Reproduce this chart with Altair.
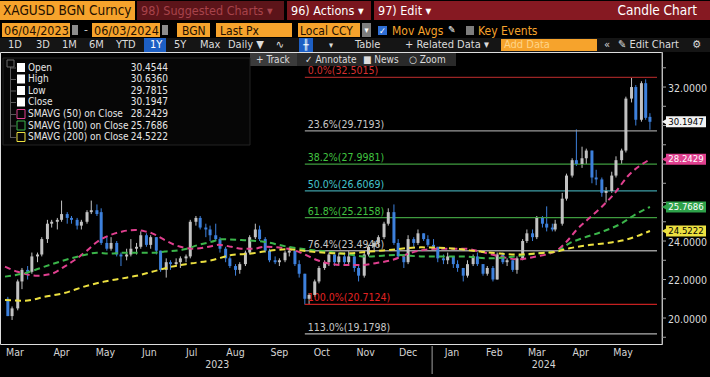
import altair as alt
import pandas as pd

# ---------------- data ----------------
dates = [
    "2023-03-07","2023-03-10","2023-03-14","2023-03-17","2023-03-21","2023-03-24","2023-03-28","2023-03-31",
    "2023-04-04","2023-04-07","2023-04-11","2023-04-14","2023-04-18","2023-04-21","2023-04-25","2023-04-28",
    "2023-05-02","2023-05-05","2023-05-09","2023-05-12","2023-05-16","2023-05-19","2023-05-23","2023-05-26","2023-05-30",
    "2023-06-02","2023-06-06","2023-06-09","2023-06-13","2023-06-16","2023-06-20","2023-06-23","2023-06-27","2023-06-30",
    "2023-07-04","2023-07-07","2023-07-11","2023-07-14","2023-07-18","2023-07-21","2023-07-25","2023-07-28",
    "2023-08-01","2023-08-04","2023-08-08","2023-08-11","2023-08-15","2023-08-18","2023-08-22","2023-08-25","2023-08-29",
    "2023-09-01","2023-09-05","2023-09-08","2023-09-12","2023-09-15","2023-09-19","2023-09-22","2023-09-26","2023-09-29",
    "2023-10-03","2023-10-06","2023-10-10","2023-10-13","2023-10-17","2023-10-20","2023-10-24","2023-10-27","2023-10-31",
    "2023-11-03","2023-11-07","2023-11-10","2023-11-14","2023-11-17","2023-11-21","2023-11-24","2023-11-28",
    "2023-12-01","2023-12-05","2023-12-08","2023-12-12","2023-12-15","2023-12-19","2023-12-22","2023-12-26","2023-12-29",
    "2024-01-02","2024-01-05","2024-01-09","2024-01-12","2024-01-16","2024-01-19","2024-01-23","2024-01-26","2024-01-30",
    "2024-02-02","2024-02-06","2024-02-09","2024-02-13","2024-02-16","2024-02-20","2024-02-23","2024-02-27",
    "2024-03-01","2024-03-05","2024-03-08","2024-03-12","2024-03-15","2024-03-19","2024-03-22","2024-03-26","2024-03-28",
    "2024-04-02","2024-04-05","2024-04-09","2024-04-12","2024-04-16","2024-04-19","2024-04-23","2024-04-26","2024-04-30",
    "2024-05-03","2024-05-07","2024-05-10","2024-05-14","2024-05-17","2024-05-21","2024-05-24","2024-05-28","2024-05-31",
    "2024-06-03",
]
opens = [
    21.0, 20.1, 20.5, 21.9, 22.5, 22.4, 23.2, 23.3,
    24.1, 24.9, 25.0, 25.1, 25.4, 25.2, 25.1, 24.8,
    25.0, 25.5, 25.6, 25.5, 23.9, 23.6, 23.9, 23.3, 23.2,
    23.3, 23.6, 23.7, 24.3, 23.8, 24.2, 23.5, 22.5, 22.9,
    22.8, 22.9, 23.1, 23.2, 25.0, 25.2, 24.7, 24.6,
    24.3, 24.1, 23.6, 23.1, 22.7, 22.5, 22.8, 23.4, 24.2,
    24.6, 24.1, 23.5, 23.0, 22.9, 23.0, 23.4, 23.5, 22.8,
    22.3, 21.0, 21.2, 21.9, 22.6, 22.9, 23.3, 22.9, 23.2,
    22.9, 23.2, 22.6, 22.2, 23.3, 23.7, 23.9, 24.2,
    24.9, 25.5, 23.9, 23.2, 22.9, 24.1, 23.9, 24.4, 24.1,
    23.8, 23.7, 23.1, 23.0, 23.2, 22.8, 22.6, 22.2, 22.8,
    23.2, 22.8, 22.3, 22.6, 22.0, 23.3, 22.9, 23.0,
    22.5, 23.1, 24.0, 24.4, 24.2, 25.2, 24.9, 24.7, 24.6,
    24.9, 26.2, 27.4, 28.2, 28.0, 28.3, 28.7, 27.3, 27.2,
    26.5, 26.6, 27.4, 28.2, 28.7, 31.4, 32.0, 30.3, 32.2,
    30.45,
]
highs = [
    21.1, 20.6, 22.0, 22.6, 22.7, 23.4, 23.4, 24.2,
    25.1, 25.1, 25.2, 26.1, 25.5, 25.3, 25.2, 25.1,
    25.6, 26.1, 25.9, 25.7, 24.2, 24.2, 24.0, 23.4, 23.6,
    24.1, 23.9, 24.5, 24.4, 24.3, 24.2, 23.5, 23.1, 23.0,
    23.1, 23.2, 23.3, 25.1, 25.3, 25.3, 24.9, 24.8,
    24.9, 24.2, 23.7, 23.2, 22.8, 22.9, 23.5, 24.3, 24.9,
    24.8, 24.2, 23.6, 23.2, 23.1, 23.5, 23.7, 23.5, 23.0,
    22.3, 21.3, 22.0, 22.7, 23.0, 23.4, 23.3, 23.4, 23.4,
    23.5, 23.2, 22.7, 23.4, 23.8, 24.0, 24.3, 25.0,
    25.7, 25.9, 24.1, 23.3, 24.3, 24.2, 24.6, 24.4, 24.3,
    24.1, 23.7, 23.3, 23.4, 23.2, 23.0, 22.6, 23.0, 23.3,
    23.4, 22.8, 22.7, 22.7, 23.4, 23.4, 23.1, 23.0,
    23.2, 24.1, 24.6, 24.6, 25.3, 25.3, 25.8, 24.9, 25.1,
    26.5, 27.5, 28.3, 29.8, 28.9, 28.8, 28.7, 27.7, 27.3,
    26.8, 27.6, 28.4, 28.8, 31.5, 32.5, 32.1, 32.3, 32.4,
    30.64,
]
lows = [
    20.1, 19.9, 20.4, 21.5, 22.0, 22.3, 22.9, 23.2,
    23.9, 24.7, 24.6, 25.0, 24.9, 24.9, 24.6, 24.6,
    24.9, 25.4, 25.3, 23.8, 23.5, 23.5, 23.2, 22.7, 23.0,
    23.2, 23.3, 23.6, 23.7, 23.6, 23.3, 22.4, 22.1, 22.5,
    22.7, 22.6, 22.9, 23.1, 24.8, 24.6, 24.2, 24.0,
    24.0, 23.4, 22.9, 22.6, 22.2, 22.3, 22.7, 23.3, 24.1,
    24.0, 23.4, 22.9, 22.8, 22.7, 22.9, 23.2, 22.7, 22.1,
    20.7, 20.7, 21.1, 21.8, 22.5, 22.7, 22.7, 22.8, 22.8,
    22.8, 22.4, 21.9, 22.1, 23.2, 23.5, 23.7, 24.1,
    24.8, 23.8, 23.1, 22.6, 22.8, 23.7, 23.8, 24.0, 23.7,
    23.6, 22.9, 22.8, 22.8, 22.6, 22.4, 21.9, 22.1, 22.7,
    22.7, 22.2, 22.2, 21.9, 22.0, 22.8, 22.7, 22.4,
    22.3, 23.0, 23.9, 24.0, 24.1, 24.7, 24.5, 24.5, 24.5,
    24.8, 26.1, 27.3, 27.9, 27.8, 28.0, 27.0, 26.9, 26.3,
    26.0, 26.5, 27.3, 28.0, 28.6, 31.2, 30.0, 30.2, 30.3,
    29.78,
]
closes = [
    20.1, 20.5, 21.9, 22.5, 22.4, 23.2, 23.3, 24.1,
    24.9, 25.0, 25.1, 25.4, 25.2, 25.1, 24.8, 25.0,
    25.5, 25.6, 25.4, 23.9, 23.6, 23.9, 23.3, 23.2, 23.3,
    23.6, 23.7, 24.3, 23.8, 24.2, 23.5, 22.5, 22.9, 22.8,
    22.9, 23.1, 23.2, 25.0, 25.2, 24.7, 24.6, 24.3,
    24.1, 23.6, 23.1, 22.7, 22.5, 22.8, 23.4, 24.2, 24.6,
    24.1, 23.5, 23.0, 22.9, 23.0, 23.4, 23.5, 22.8, 22.3,
    21.0, 21.2, 21.9, 22.6, 22.9, 23.3, 22.9, 23.2, 22.9,
    23.2, 22.6, 22.2, 23.3, 23.7, 23.9, 24.2, 24.9,
    25.5, 23.9, 23.2, 22.9, 24.1, 23.9, 24.4, 24.1, 23.8,
    23.7, 23.1, 23.0, 23.2, 22.8, 22.6, 22.2, 22.8, 23.2,
    22.8, 22.3, 22.6, 22.0, 23.3, 22.9, 23.0, 22.5,
    23.1, 24.0, 24.4, 24.2, 25.2, 24.9, 24.7, 24.6, 24.9,
    26.2, 27.4, 28.2, 28.0, 28.3, 28.7, 27.3, 27.2, 26.5,
    26.6, 27.4, 28.2, 28.7, 31.4, 32.0, 30.3, 32.2, 30.4,
    30.1947,
]

ma50_dates = ["2023-03-05","2023-03-14","2023-03-28","2023-04-07","2023-04-16","2023-04-23","2023-05-02","2023-05-09",
              "2023-05-18","2023-05-27","2023-06-05","2023-06-12","2023-06-17","2023-06-26","2023-07-03","2023-07-10",
              "2023-07-17","2023-07-27","2023-08-03","2023-08-12","2023-08-19","2023-08-28","2023-09-04","2023-09-21",
              "2023-09-30","2023-10-12","2023-10-19","2023-10-30","2023-11-11","2023-11-22","2023-12-03","2023-12-20",
              "2024-01-05","2024-01-24","2024-02-04","2024-02-18","2024-03-01","2024-03-15","2024-03-29","2024-04-05",
              "2024-04-12","2024-04-21","2024-04-30","2024-05-09","2024-05-18","2024-06-03"]
ma50_vals = [22.67, 22.4, 22.2, 22.3, 22.67, 23.0, 23.5, 23.95,
             24.3, 24.5, 24.57, 24.5, 24.4, 24.05, 23.8, 23.65,
             23.6, 23.7, 23.8, 23.7, 23.6, 23.6, 23.7, 23.6,
             23.4, 23.0, 22.85, 22.75, 22.75, 22.85, 23.0, 23.45,
             23.6, 23.6, 23.45, 23.2, 23.05, 23.2, 23.5, 23.96,
             24.57, 25.18, 25.78, 26.48, 27.34, 28.2429]

ma100_dates = ["2023-03-05","2023-03-19","2023-04-02","2023-04-16","2023-04-30","2023-05-09","2023-05-18","2023-05-27",
               "2023-06-17","2023-06-26","2023-07-10","2023-07-20","2023-07-29","2023-08-05","2023-08-19","2023-08-30",
               "2023-09-04","2023-09-21","2023-10-02","2023-10-19","2023-11-06","2023-11-16","2023-11-29","2023-12-08",
               "2023-12-24","2024-01-07","2024-01-24","2024-02-09","2024-02-28","2024-03-15","2024-03-29","2024-04-07",
               "2024-04-16","2024-04-30","2024-05-14","2024-05-23","2024-06-03"]
ma100_vals = [22.15, 22.33, 22.67, 23.0, 23.27, 23.39, 23.35, 23.39,
              23.39, 23.45, 23.57, 23.8, 23.96, 24.09, 24.05, 24.0,
              23.96, 23.7, 23.58, 23.45, 23.27, 23.19, 23.25, 23.27,
              23.2, 23.19, 23.19, 23.1, 23.19, 23.36, 23.45, 23.88,
              24.14, 24.48, 24.92, 25.35, 25.7686]

ma200_dates = ["2023-03-05","2023-03-19","2023-04-02","2023-04-16","2023-04-30","2023-05-14","2023-05-27","2023-06-05",
               "2023-06-17","2023-07-01","2023-07-15","2023-07-29","2023-08-12","2023-08-26","2023-09-04","2023-09-21",
               "2023-10-07","2023-10-30","2023-11-18","2023-12-01","2023-12-24","2024-01-17","2024-02-04","2024-02-18",
               "2024-03-01","2024-03-15","2024-03-29","2024-04-07","2024-04-21","2024-05-05","2024-05-16","2024-06-03"]
ma200_vals = [20.93, 20.9, 21.1, 21.3, 21.63, 21.89, 22.06, 22.18,
              22.4, 22.67, 22.84, 23.0, 23.27, 23.35, 23.45, 23.57,
              23.45, 23.35, 23.45, 23.53, 23.67, 23.6, 23.45, 23.35,
              23.3, 23.36, 23.45, 23.62, 23.79, 23.91, 24.05, 24.5222]

fib_pcts = ["0.0%", "23.6%", "38.2%", "50.0%", "61.8%", "76.4%", "100.0%", "113.0%"]
fib_vals = [32.5015, 29.7193, 27.9981, 26.6069, 25.2158, 23.4946, 20.7124, 19.1798]
fib_start = "2023-10-03"

month_labels = ["Mar", "Apr", "May", "Jun", "Jul", "Aug", "Sep", "Oct", "Nov", "Dec",
                "Jan", "Feb", "Mar", "Apr", "May"]
month_label_dates = ["2023-03-12", "2023-04-14", "2023-05-15", "2023-06-15", "2023-07-15", "2023-08-15",
                     "2023-09-15", "2023-10-15", "2023-11-15", "2023-12-15", "2024-01-15", "2024-02-14",
                     "2024-03-15", "2024-04-15", "2024-05-15"]
month_starts = ["2023-04-01", "2023-05-01", "2023-06-01", "2023-07-01", "2023-08-01", "2023-09-01",
                "2023-10-01", "2023-11-01", "2023-12-01", "2024-01-01", "2024-02-01", "2024-03-01",
                "2024-04-01", "2024-05-01", "2024-06-01"]
year_labels = ["2023", "2024"]
year_label_dates = ["2023-08-02", "2024-03-20"]
year_break = "2024-01-01"

price_ticks = [19, 20, 21, 22, 23, 24, 25, 26, 27, 28, 29, 30, 31, 32, 33]
price_tick_labels = [20, 22, 24, 32]

legend_names = ["Open", "High", "Low", "Close", "SMAVG (50)  on Close",
                "SMAVG (100)  on Close", "SMAVG (200)  on Close"]
legend_vals = [30.4544, 30.6360, 29.7815, 30.1947, 28.2429, 25.7686, 24.5222]

flag_vals = [30.1947, 28.2429, 25.7686, 24.5222]

# ---------------- styling ----------------
FONT = "Liberation Sans Narrow, DejaVu Sans Condensed, Roboto Condensed, Liberation Sans, sans-serif"
W, H, TOP = 662, 292, 52
UP, DOWN = "#c2c2c2", "#3d80dc"
C50, C100, C200 = "#e0408f", "#3bb54a", "#ece040"
ORANGE = "#f6a32c"
BOXTXT = "#241000"
AXC = "#a0a0a0"

fib_line_colors = ["#9a2424", "#9a9a9a", "#3f9c3f", "#3e9ea6", "#3f9c3f", "#9a9a9a", "#c42020", "#b0b0b0"]
fib_text_colors = ["#d83030", "#c8c8c8", "#40c440", "#44c4cc", "#40c440", "#c8c8c8", "#e42222", "#c8c8c8"]
flag_fill = ["#f2f2f2", C50, "#2ea24a", C200]
flag_text = ["#000000", "#ffffff", "#ffffff", "#000000"]


def utc(d):
    y, m, dd = map(int, d.split("-"))
    return alt.DateTime(year=y, month=m, date=dd, utc=True)


xscale = alt.Scale(type="utc", domain=[utc("2023-03-05"), utc("2024-06-08")], nice=False)
yscale = alt.Scale(domain=[18.65, 33.82], nice=False, zero=False)

xaxis = alt.Axis(values=[utc(d) for d in month_starts], labels=False, tickSize=4, tickColor=AXC,
                 domainColor=AXC, grid=False, title=None, orient="bottom")

# ---------------- candles ----------------
cdf = pd.DataFrame({"date": dates, "open": opens, "high": highs, "low": lows, "close": closes})
color_cond = alt.condition("datum.close >= datum.open", alt.value(UP), alt.value(DOWN))
wicks = alt.Chart(cdf).mark_rule(strokeWidth=1).encode(
    x=alt.X("date:T", scale=xscale, axis=xaxis, title=None),
    y=alt.Y("low:Q", scale=yscale, axis=None), y2="high:Q", color=color_cond)
bodies = alt.Chart(cdf).mark_bar(size=3).encode(
    x=alt.X("date:T", axis=None),
    y=alt.Y("open:Q", axis=None), y2="close:Q", color=color_cond)

# ---------------- right price axis (drawn from the y scale) ----------------
ydom = alt.Chart(pd.DataFrame({"k": [0]})).mark_rule(color=AXC, strokeWidth=1).encode(
    x=alt.value(W), y=alt.value(0), y2=alt.value(H))
yticks = alt.Chart(pd.DataFrame({"v": price_ticks})).mark_rule(color=AXC, strokeWidth=1).encode(
    x=alt.value(W), x2=alt.value(W + 4), y=alt.Y("v:Q", axis=None))
ylabels = alt.Chart(pd.DataFrame({"v": price_tick_labels})).mark_text(
    align="left", baseline="middle", dy=1.5, fontSize=10.5, font=FONT, color="#dcdcdc").encode(
    x=alt.value(W + 6), y=alt.Y("v:Q", axis=None), text=alt.Text("v:Q", format=".4f"))

# ---------------- fibonacci ----------------
fdf = pd.DataFrame({"pct": fib_pcts, "value": fib_vals})
fdf["label"] = fdf["pct"] + "(" + fdf["value"].map(lambda v: f"{v:.4f}") + ")"
fdf["start"] = fib_start
fdf["end"] = "2024-06-08"
fdf["lc"] = fib_line_colors
fdf["tc"] = fib_text_colors
fib_rules = alt.Chart(fdf).mark_rule(strokeWidth=1.3).encode(
    x=alt.X("start:T", axis=None), x2="end:T", y=alt.Y("value:Q", axis=None),
    color=alt.Color("lc:N", scale=None))
fib_text = alt.Chart(fdf).mark_text(align="left", baseline="bottom", dx=3, dy=-1, fontSize=10.5, font=FONT).encode(
    x=alt.X("start:T", axis=None), y=alt.Y("value:Q", axis=None), text="label:N",
    color=alt.Color("tc:N", scale=None))

# ---------------- moving averages ----------------
mdf = pd.concat([
    pd.DataFrame({"date": ma50_dates, "value": ma50_vals, "series": "50", "col": C50}),
    pd.DataFrame({"date": ma100_dates, "value": ma100_vals, "series": "100", "col": C100}),
    pd.DataFrame({"date": ma200_dates, "value": ma200_vals, "series": "200", "col": C200}),
])
ma_lines = alt.Chart(mdf).mark_line(strokeDash=[6, 4], strokeWidth=2, interpolate="monotone").encode(
    x=alt.X("date:T", axis=None), y=alt.Y("value:Q", axis=None),
    color=alt.Color("col:N", scale=None), detail="series:N")

# ---------------- last value flags ----------------
gdf = pd.DataFrame({"value": flag_vals, "fill": flag_fill, "tcol": flag_text})
gdf["label"] = gdf["value"].map(lambda v: f"{v:.4f}")
flag_box = alt.Chart(gdf).mark_tick(orient="horizontal", size=40, thickness=11, opacity=1).encode(
    x=alt.value(686), y=alt.Y("value:Q", axis=None), color=alt.Color("fill:N", scale=None))
flag_ptr = alt.Chart(gdf).mark_point(shape="triangle-left", filled=True, size=24, opacity=1).encode(
    x=alt.value(664), y=alt.Y("value:Q", axis=None), color=alt.Color("fill:N", scale=None))
flag_txt = alt.Chart(gdf).mark_text(fontSize=9.5, font=FONT, align="center", baseline="middle").encode(
    x=alt.value(686), y=alt.Y("value:Q", axis=None), text="label:N", color=alt.Color("tcol:N", scale=None))

# ---------------- time labels ----------------
mldf = pd.DataFrame({"date": month_label_dates, "label": month_labels})
month_txt = alt.Chart(mldf).mark_text(fontSize=10.5, font=FONT, color="#d4d4d4", baseline="middle").encode(
    x=alt.X("date:T", axis=None), y=alt.value(H + 9), text="label:N")
ydf = pd.DataFrame({"date": year_label_dates, "label": year_labels})
year_txt = alt.Chart(ydf).mark_text(fontSize=10.5, font=FONT, color="#d4d4d4", baseline="middle").encode(
    x=alt.X("date:T", axis=None), y=alt.value(H + 21), text="label:N")
ybdf = pd.DataFrame({"date": [year_break]})
year_rule = alt.Chart(ybdf).mark_rule(color=AXC, strokeWidth=1).encode(
    x=alt.X("date:T", axis=None), y=alt.value(H + 2), y2=alt.value(H + 30))

# ---------------- terminal chrome (pixel positions, image coords) ----------------
rects = [
    (0, 135, 1, 20, ORANGE, "transparent"),
    (137, 284, 1, 20, "#5c1419", "transparent"),
    (287, 371, 1, 20, "#79161d", "transparent"),
    (374, 710, 1, 20, "#861922", "transparent"),
    (2, 70, 23, 37, ORANGE, "transparent"),
    (72, 78, 25, 35, "#8c8c8c", "transparent"),
    (92, 160, 23, 37, ORANGE, "transparent"),
    (162, 168, 25, 35, "#8c8c8c", "transparent"),
    (177, 210, 23, 37, ORANGE, "transparent"),
    (216, 292, 23, 37, ORANGE, "transparent"),
    (298, 360, 23, 37, ORANGE, "transparent"),
    (362, 371, 23, 37, "#7d7d7d", "transparent"),
    (378, 387, 26, 35, "#2f6fd6", "transparent"),
    (466, 474, 26, 35, "#7d7d7d", "transparent"),
    (0, 710, 38, 52, "#151515", "transparent"),
    (144, 166, 38, 52, "#1d5fc4", "transparent"),
    (299, 313, 38, 52, "#1d5fc4", "transparent"),
    (501, 597, 39, 51, ORANGE, "transparent"),
    (250, 456, 53, 66, "#2a2a2a", "transparent"),
    (250, 297, 53, 66, "#3b3b3b", "transparent"),
    (3, 250, 58, 145, "#060606", "#222222"),
    (10, 11, 64, 138, "#5a5a5a", "transparent"),
    (7, 14, 60, 67, "#060606", "#6a6a6a"),
]
legend_y = [67.5, 79, 90.5, 102, 114, 125.5, 137]
legend_box_stroke = ["transparent"] * 4 + [C50, C100, C200]
legend_box_fill = ["#ffffff"] * 4 + ["#060606"] * 3
for yy, f, s in zip(legend_y, legend_box_fill, legend_box_stroke):
    rects.append((11, 16, yy, yy + 1, "#5a5a5a", "transparent"))
    rects.append((17, 25, yy - 4.5, yy + 4.5, f, s))

rdf = pd.DataFrame(rects, columns=["x0", "x1", "y0", "y1", "fill", "stroke"])
rdf["y0"] = rdf["y0"] - TOP
rdf["y1"] = rdf["y1"] - TOP
chrome_rects = alt.Chart(rdf).mark_rect(strokeWidth=1).encode(
    x=alt.X("x0:Q", scale=None, axis=None), x2="x1:Q",
    y=alt.Y("y0:Q", scale=None, axis=None), y2="y1:Q",
    fill=alt.Fill("fill:N", scale=None), stroke=alt.Stroke("stroke:N", scale=None))

G = "#dcdcdc"
texts = [
    ("XAGUSD BGN Curncy", 3, 11, BOXTXT, 13.5, "left"),
    ("98) Suggested Charts ▾", 141, 11, "#a8434b", 12.5, "left"),
    ("96) Actions ▾", 291, 11, "#ffffff", 12.5, "left"),
    ("97) Edit ▾", 378, 11, "#ffffff", 12.5, "left"),
    ("Candle Chart", 697, 11, "#ffffff", 13.5, "right"),
    ("06/04/2023", 4, 30.5, BOXTXT, 12.5, "left"),
    ("-", 84, 30, "#c0c0c0", 12, "left"),
    ("06/03/2024", 94, 30.5, BOXTXT, 12.5, "left"),
    ("BGN", 182, 30.5, BOXTXT, 12, "left"),
    ("Last Px", 220, 30.5, BOXTXT, 12, "left"),
    ("Local CCY", 300, 30.5, BOXTXT, 12, "left"),
    ("▾", 366.5, 30, "#ffffff", 9, "center"),
    ("✓", 382.5, 30.5, "#ffffff", 9, "center"),
    ("Mov Avgs", 392, 30.5, ORANGE, 12, "left"),
    ("✎", 448, 30, "#ffffff", 10, "left"),
    ("Key Events", 478, 30.5, ORANGE, 12, "left"),
    ("1D", 8, 45, G, 11, "left"),
    ("3D", 36, 45, G, 11, "left"),
    ("1M", 62, 45, G, 11, "left"),
    ("6M", 89, 45, G, 11, "left"),
    ("YTD", 116, 45, G, 11, "left"),
    ("1Y", 150, 45, "#ffffff", 11, "left"),
    ("5Y", 174, 45, G, 11, "left"),
    ("Max", 200, 45, G, 11, "left"),
    ("Daily ▼", 228, 45, G, 11, "left"),
    ("∿", 280, 45, G, 11, "center"),
    ("╫", 306, 45, "#ffffff", 10, "center"),
    ("▾", 331, 45, G, 9, "center"),
    ("Table", 355, 45, G, 11, "left"),
    ("+ Related Data ▾", 405, 45, G, 11, "left"),
    ("Add Data", 504, 45, "#ffd487", 11, "left"),
    ("«", 607, 45, G, 11, "center"),
    ("✎ Edit Chart", 618, 45, G, 11, "left"),
    ("⚙", 697, 45, G, 11, "center"),
    ("+ Track", 256, 59.5, G, 10, "left"),
    ("✓ Annotate", 305, 59.5, G, 10, "left"),
    ("■ News", 363, 59.5, G, 10, "left"),
    ("○ Zoom", 409, 59.5, G, 10, "left"),
]
for yy, nm, v in zip(legend_y, legend_names, legend_vals):
    texts.append((nm, 28, yy, "#e6e6e6", 10, "left"))
    texts.append((f"{v:.4f}", 168, yy, "#e6e6e6", 10, "right"))

tdf = pd.DataFrame(texts, columns=["text", "x", "y", "color", "size", "align"])
tdf["y"] = tdf["y"] - TOP


def text_layer(al):
    sub = tdf[tdf["align"] == al]
    return alt.Chart(sub).mark_text(align=al, baseline="middle", font=FONT).encode(
        x=alt.X("x:Q", scale=None, axis=None), y=alt.Y("y:Q", scale=None, axis=None),
        text="text:N", color=alt.Color("color:N", scale=None), size=alt.Size("size:Q", scale=None))


chart = alt.layer(
    wicks, fib_rules, fib_text, bodies, ma_lines,
    ydom, yticks, ylabels,
    flag_box, flag_ptr, flag_txt, month_txt, year_txt, year_rule,
    chrome_rects, text_layer("left"), text_layer("center"), text_layer("right"),
).properties(
    width=W, height=H,
    autosize=alt.AutoSizeParams(type="none"),
    padding={"left": 0, "top": TOP, "right": 710 - W, "bottom": 377 - TOP - H},
    background="#000000",
).configure_view(stroke=None).configure(font=FONT)

chart.save("out.html", embed_options={"renderer": "svg", "actions": False})
